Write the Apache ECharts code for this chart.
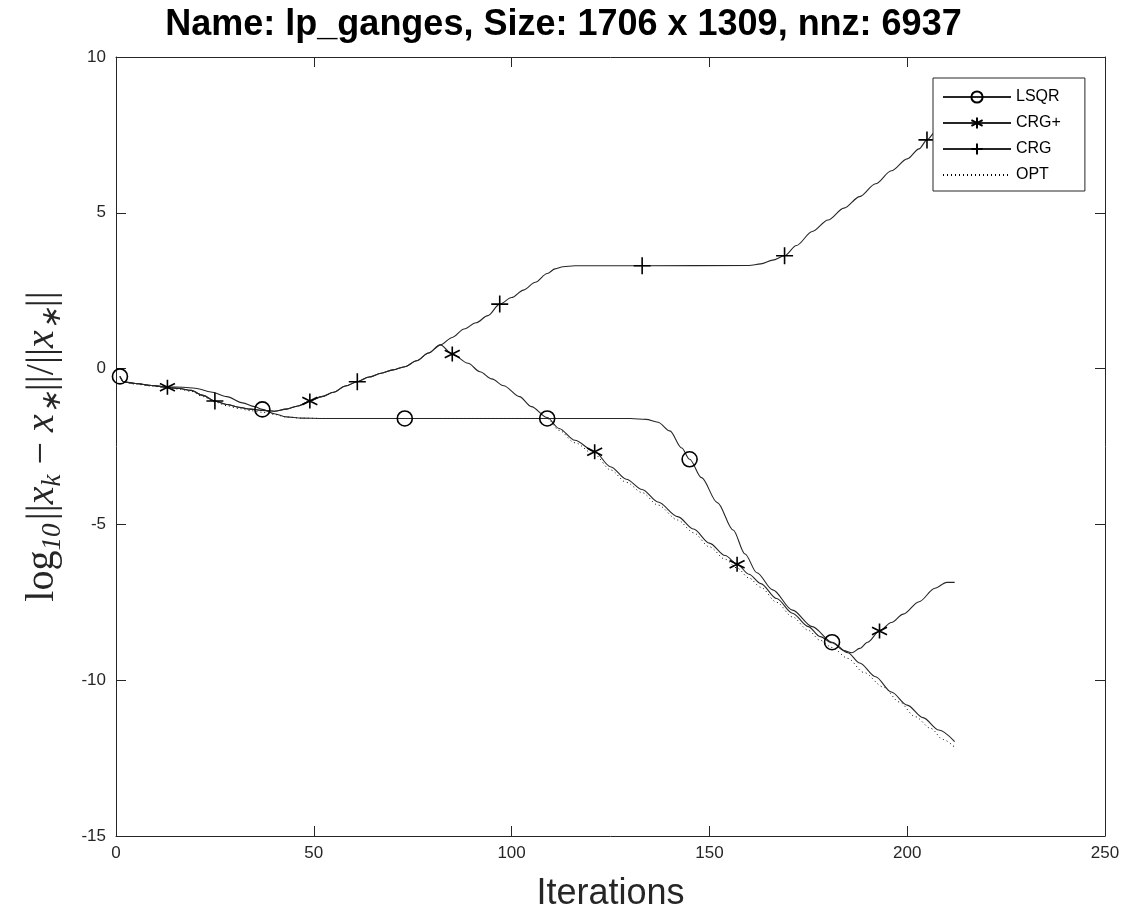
<!DOCTYPE html>
<html lang="en">
  <head>
    <meta charset="UTF-8" />
    <script src="https://cdn.jsdelivr.net/npm/echarts@6/dist/echarts.min.js"></script>
    <title>lp_ganges</title>
    <style>
      html, body { margin: 0; padding: 0; background: #fff; }
      #app { width: 1127px; height: 922px; }
    </style>
  </head>
  <body>
    <div id="app"></div>

    <script>
      // [iteration, log10 relative error]
      const lsqr = [
        [1, -0.25], [2, -0.42], [5, -0.48], [9, -0.54], [13, -0.59], [17, -0.6],
        [20, -0.63], [24, -0.75], [28, -0.9], [32, -1.1], [35, -1.22], [37, -1.31],
        [40, -1.45], [43, -1.55], [47, -1.59], [52, -1.6], [73, -1.6], [109, -1.6],
        [130, -1.6], [134, -1.63], [137, -1.72], [140, -2.0], [143, -2.55], [145, -2.91],
        [148, -3.5], [152, -4.3], [156, -5.18], [159, -5.95], [162, -6.55], [166, -7.1],
        [171, -7.75], [176, -8.28], [181, -8.78], [185, -9.12], [188, -9.45], [192, -9.89],
        [196, -10.38], [200, -10.8], [204, -11.2], [208, -11.6], [212, -11.97]
      ];
      const crg = [
        [1, -0.25], [2, -0.43], [5, -0.48], [9, -0.54], [13, -0.6], [16, -0.64],
        [19, -0.7], [22, -0.86], [25, -1.04], [28, -1.15], [31, -1.24], [34, -1.3],
        [37, -1.34], [40, -1.37], [43, -1.3], [46, -1.2], [49, -1.04], [52, -0.9],
        [55, -0.76], [58, -0.56], [61, -0.42], [64, -0.27], [67, -0.15], [70, -0.04],
        [73, 0.06], [76, 0.25], [79, 0.5], [82, 0.76], [85, 1.0], [88, 1.27],
        [91, 1.47], [94, 1.7], [97, 2.07], [100, 2.28], [103, 2.52], [106, 2.77],
        [109, 3.05], [111, 3.2], [113, 3.27], [116, 3.3], [133, 3.3], [160, 3.31],
        [163, 3.36], [166, 3.48], [169, 3.62], [172, 3.95], [176, 4.4], [180, 4.77],
        [184, 5.15], [188, 5.52], [192, 5.93], [196, 6.35], [200, 6.73], [203, 7.05],
        [205, 7.34], [207, 7.58], [210, 7.9], [212, 8.15]
      ];
      const crgPlus = [
        [1, -0.25], [2, -0.43], [5, -0.48], [9, -0.54], [13, -0.6], [16, -0.64],
        [19, -0.7], [22, -0.86], [25, -1.04], [28, -1.15], [31, -1.24], [34, -1.3],
        [37, -1.34], [40, -1.37], [43, -1.3], [46, -1.2], [49, -1.04], [52, -0.9],
        [55, -0.76], [58, -0.56], [61, -0.42], [64, -0.27], [67, -0.15], [70, -0.04],
        [73, 0.06], [76, 0.25], [79, 0.5], [82, 0.76], [85, 0.47], [89, 0.17],
        [92, -0.1], [95, -0.33], [98, -0.55], [102, -0.9], [105, -1.22], [109, -1.57],
        [112, -1.92], [116, -2.3], [121, -2.67], [125, -3.15], [129, -3.55], [133, -3.88],
        [137, -4.28], [142, -4.75], [146, -5.15], [150, -5.6], [154, -6.0], [157, -6.28],
        [160, -6.6], [163, -6.9], [167, -7.38], [171, -7.85], [175, -8.28], [178, -8.6],
        [181, -8.8], [184, -9.05], [186, -9.12], [188, -8.98], [190, -8.78], [193, -8.42],
        [196, -8.15], [199, -7.88], [203, -7.48], [207, -7.05], [210, -6.86], [212, -6.86]
      ];
      const opt = [
        [1, -0.25], [2, -0.44], [5, -0.5], [9, -0.56], [13, -0.62], [16, -0.66],
        [19, -0.73], [22, -0.9], [25, -1.07], [28, -1.19], [31, -1.28], [34, -1.35],
        [37, -1.4], [40, -1.47], [43, -1.55], [47, -1.59], [52, -1.6], [109, -1.6],
        [112, -1.98], [116, -2.38], [121, -2.76], [125, -3.25], [129, -3.65], [133, -3.98],
        [137, -4.38], [142, -4.86], [146, -5.27], [150, -5.72], [154, -6.12], [157, -6.4],
        [160, -6.72], [163, -7.02], [167, -7.5], [171, -7.97], [175, -8.4], [178, -8.72],
        [181, -8.95], [185, -9.3], [189, -9.75], [194, -10.22], [198, -10.7], [202, -11.17],
        [206, -11.55], [209, -11.9], [212, -12.15]
      ];

      // iterations where a marker is drawn
      const lsqrMarks = [1, 37, 73, 109, 145, 181];
      const crgPlusMarks = [13, 49, 85, 121, 157, 193];
      const crgMarks = [25, 61, 97, 133, 169, 205];

      const xTicks = [0, 250, 50];
      const yTicks = [-15, 10, 5];

      const ink = "#262626";
      const starPath = "path://M10,0L10,20M1.34,5L18.66,15M1.34,15L18.66,5";
      const plusPath = "path://M10,0L10,20M0,10L20,10";

      // only keep the symbol on the marker iterations
      function withMarks(points, marks) {
        return points.map((p) =>
          marks.includes(p[0]) ? { value: p } : { value: p, symbol: "none" }
        );
      }

      function lineSeries(name, points, marks, symbol, size) {
        return {
          name: name,
          type: "line",
          data: withMarks(points, marks),
          symbol: symbol,
          symbolSize: size,
          showAllSymbol: true,
          smooth: 0.3,
          smoothMonotone: "x",
          lineStyle: { color: ink, width: 1.1 },
          itemStyle: {
            color: symbol === "circle" ? "rgba(0,0,0,0)" : "#000",
            borderColor: "#000",
            borderWidth: 1.6,
          },
          emphasis: { disabled: true },
          z: 3,
        };
      }

      // box axes: no labels, ticks pointing in
      const boxAxis = {
        type: "value",
        axisLine: { show: true, onZero: false, lineStyle: { color: ink, width: 1 } },
        axisTick: { show: true, inside: true, length: 10, lineStyle: { color: ink } },
        axisLabel: { show: false },
        splitLine: { show: false },
      };

      const echart = echarts.init(document.getElementById("app"));

      echart.setOption({
        animation: false,
        backgroundColor: "#fff",
        title: {
          text: "Name: lp_ganges, Size: 1706 x 1309, nnz: 6937",
          left: "center",
          top: 2,
          textStyle: {
            fontFamily: "Liberation Sans",
            fontWeight: "bold",
            fontSize: 36,
            color: "#000",
          },
        },
        legend: {
          orient: "vertical",
          left: 933,
          top: 78,
          padding: [11, 24, 8, 9],
          itemGap: 10,
          itemWidth: 68,
          itemHeight: 14,
          backgroundColor: "#fff",
          borderColor: ink,
          borderWidth: 1,
          borderRadius: 0,
          textStyle: { fontFamily: "Liberation Sans", fontSize: 16, color: "#000" },
          data: ["LSQR", "CRG+", "CRG", "OPT"],
        },
        grid: { left: 116, right: 22, top: 57, bottom: 86 },
        xAxis: [
          {
            type: "value",
            min: xTicks[0],
            max: xTicks[1],
            interval: xTicks[2],
            name: "Iterations",
            nameLocation: "middle",
            nameGap: 40,
            nameTextStyle: { fontFamily: "Liberation Sans", fontSize: 36, color: ink },
            axisLine: { onZero: false, lineStyle: { color: ink, width: 1 } },
            axisTick: { inside: true, length: 10, lineStyle: { color: ink } },
            axisLabel: { fontFamily: "Liberation Sans", fontSize: 17, color: ink, margin: 9 },
            splitLine: { show: false },
          },
          Object.assign({}, boxAxis, {
            position: "top",
            min: xTicks[0],
            max: xTicks[1],
            interval: xTicks[2],
          }),
        ],
        yAxis: [
          {
            type: "value",
            min: yTicks[0],
            max: yTicks[1],
            interval: yTicks[2],
            name:
              "{r|log}{s|10} {r|||}{i|x}{s|k}{r| − }{i|x}{s|∗}{r|||/||}{i|x}{s|∗}{r|||}",
            nameLocation: "middle",
            nameGap: 50,
            nameTextStyle: {
              rich: {
                r: { fontFamily: "Liberation Serif", fontSize: 40, color: ink },
                i: { fontFamily: "Liberation Serif", fontStyle: "italic", fontSize: 40, color: ink },
                s: { fontFamily: "Liberation Serif", fontStyle: "italic", fontSize: 27, color: ink, padding: [20, 0, 0, 0] },
              },
            },
            axisLine: { show: true, onZero: false, lineStyle: { color: ink, width: 1 } },
            axisTick: { show: true, inside: true, length: 10, lineStyle: { color: ink } },
            axisLabel: { fontFamily: "Liberation Sans", fontSize: 17, color: ink, margin: 10 },
            splitLine: { show: false },
          },
          Object.assign({}, boxAxis, {
            position: "right",
            min: yTicks[0],
            max: yTicks[1],
            interval: yTicks[2],
          }),
        ],
        series: [
          lineSeries("LSQR", lsqr, lsqrMarks, "circle", 15),
          lineSeries("CRG+", crgPlus, crgPlusMarks, starPath, 15),
          lineSeries("CRG", crg, crgMarks, plusPath, 17),
          {
            name: "OPT",
            type: "line",
            data: opt,
            symbol: "circle",
            symbolSize: 0,
            showSymbol: false,
            smooth: 0.3,
            smoothMonotone: "x",
            lineStyle: { color: "#000", width: 1, type: [1, 3] },
            itemStyle: { color: "rgba(0,0,0,0)", borderWidth: 0 },
            emphasis: { disabled: true },
            z: 2,
          },
        ],
      });
    </script>
  </body>
</html>
